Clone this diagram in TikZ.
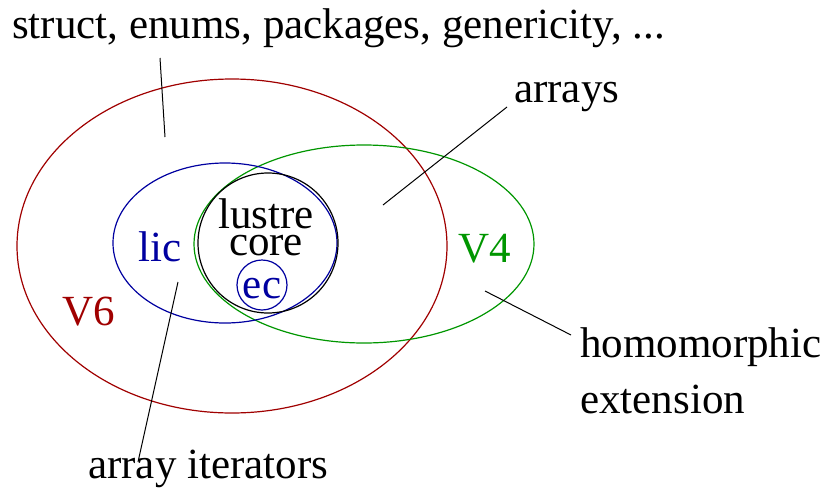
\documentclass[tikz,border=0pt]{standalone}
\usepackage{fontspec}
\setmainfont{Liberation Serif}
\begin{document}
\begin{tikzpicture}[x=1pt,y=-1pt,
  lbl/.style={anchor=base west,inner sep=0pt,font=\fontsize{43}{47}\selectfont},
  ring/.style={line width=1.2pt},
  leader/.style={line width=1pt,black}]
\definecolor{vsix}{RGB}{160,0,0}
\definecolor{vlic}{RGB}{0,0,160}
\definecolor{vfour}{RGB}{0,150,0}
\useasboundingbox (0,0) rectangle (823,496);
% sets
\draw[ring,vsix] (232,246) ellipse [x radius=215, y radius=167];
\draw[ring,vfour] (364,244) ellipse [x radius=170, y radius=99];
\draw[ring,vlic] (225,243) ellipse [x radius=112, y radius=80];
\draw[ring,black] (268,243) ellipse [x radius=70, y radius=70];
\draw[ring,vlic] (262,285) circle [radius=25];
% labels
\node[lbl] (top) at (12,38) {struct, enums, packages, genericity, ...};
\node[lbl] (arr) at (514,102) {arrays};
\node[lbl] (hom) at (580,357) {homomorphic};
\node[lbl] (ext) at (580,413) {extension};
\node[lbl] (ait) at (88,478) {array iterators};
\node[lbl,vlic] (lic) at (138,261) {lic};
\node[lbl,vsix] (v6) at (62,325) {V6};
\node[lbl,vfour] (v4) at (458,262) {V4};
\node[lbl,anchor=base,align=center,font=\fontsize{43}{27}\selectfont] (lus) at (266,255) {lustre\\core};
\node[lbl,anchor=base,text height=19pt,vlic] (ec) at (262,298) {ec};
% leader lines
\coordinate (t1) at (160,58); \coordinate (t2) at (165,137);
\coordinate (a1) at (507,107); \coordinate (a2) at (383,205);
\coordinate (h1) at (571,335); \coordinate (h2) at (485,291);
\coordinate (i1) at (138,462); \coordinate (i2) at (178,282);
\draw[leader] (t1) -- (t2);
\draw[leader] (a1) -- (a2);
\draw[leader] (h1) -- (h2);
\draw[leader] (i1) -- (i2);
\end{tikzpicture}
\end{document}
